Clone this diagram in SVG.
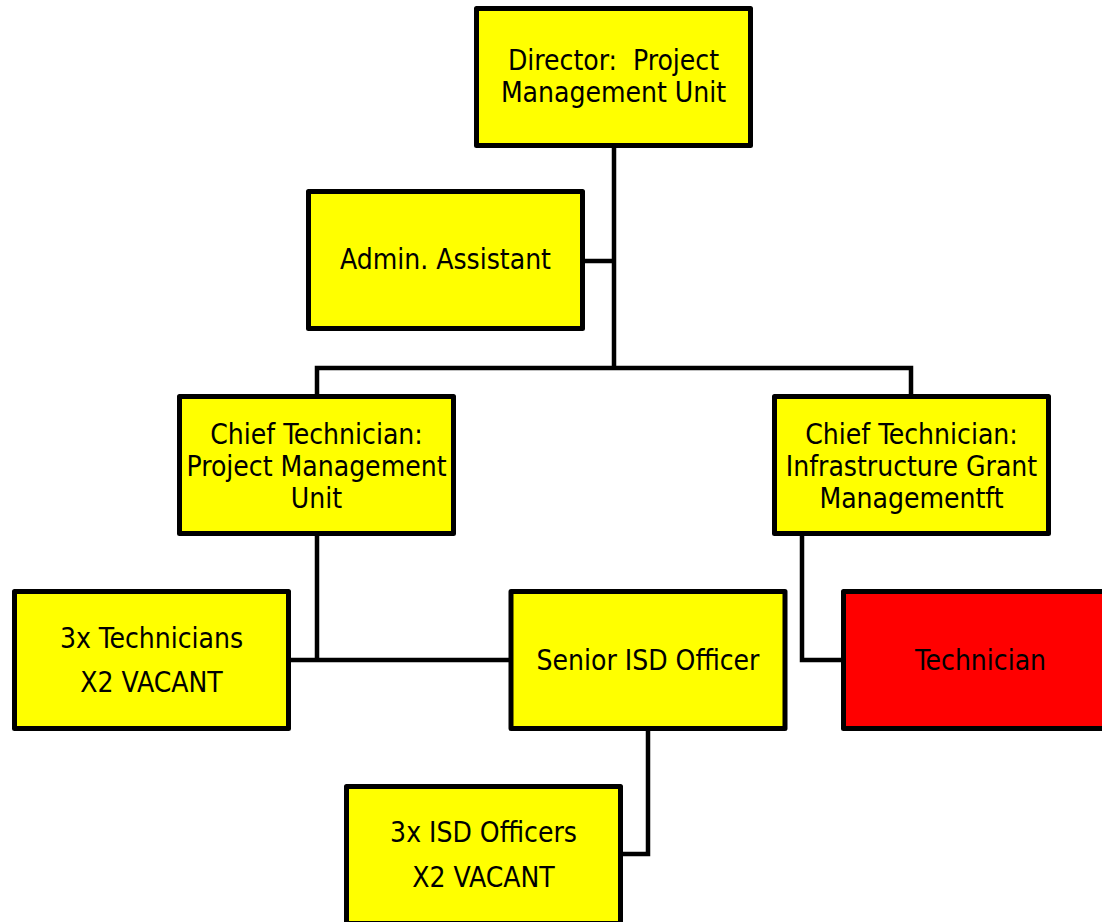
<svg xmlns="http://www.w3.org/2000/svg" width="1102" height="922" viewBox="0 0 1102 922">
<style>
.box{fill:#ffff00;stroke:#000;stroke-width:5;stroke-linejoin:round}
.red{fill:#ff0000}
.t{font-family:"DejaVu Sans Condensed","DejaVu Sans",Tahoma,sans-serif;font-size:28px;fill:#000;text-anchor:middle;white-space:pre}
.c{fill:none;stroke:#000;stroke-width:4.5}
</style>
<rect width="1102" height="922" fill="#fff"/>
<g id="connectors">
<path class="c" d="M614 140V368M580 261H614M317 400V368H911V400"/>
<path class="c" d="M317 530V660M285 660H515"/>
<path class="c" d="M802 530V660H847"/>
<path class="c" d="M648 725V854H617"/>
</g>
<g id="director"><rect class="box" x="476.5" y="8.5" width="274" height="137"/>
<text class="t" x="613.5" y="70" xml:space="preserve">Director:  Project</text><text class="t" x="613.5" y="102">Management Unit</text></g>
<g id="admin"><rect class="box" x="308.5" y="191.5" width="274" height="137"/>
<text class="t" x="445.5" y="269">Admin. Assistant</text></g>
<g id="chief-pmu"><rect class="box" x="179.5" y="396.5" width="274" height="137"/>
<text class="t" x="316.5" y="444">Chief Technician:</text><text class="t" x="316.5" y="476">Project Management</text><text class="t" x="316.5" y="508">Unit</text></g>
<g id="chief-igm"><rect class="box" x="774.5" y="396.5" width="274" height="137"/>
<text class="t" x="911.5" y="444">Chief Technician:</text><text class="t" x="911.5" y="476">Infrastructure Grant</text><text class="t" x="911.5" y="508">Managementft</text></g>
<g id="technicians"><rect class="box" x="14.5" y="591.5" width="274" height="137"/>
<text class="t" x="151.5" y="648">3x Technicians</text><text class="t" x="151.5" y="692">X2 VACANT</text></g>
<g id="senior-isd"><rect class="box" x="511" y="591.5" width="274" height="137"/>
<text class="t" x="648" y="670">Senior ISD Officer</text></g>
<g id="technician"><rect class="box red" x="843.5" y="591.5" width="274" height="137"/>
<text class="t" x="980.5" y="670">Technician</text></g>
<g id="isd-officers"><rect class="box" x="346.5" y="786.5" width="274" height="137"/>
<text class="t" x="483.5" y="842">3x ISD Officers</text><text class="t" x="483.5" y="887">X2 VACANT</text></g>
</svg>
